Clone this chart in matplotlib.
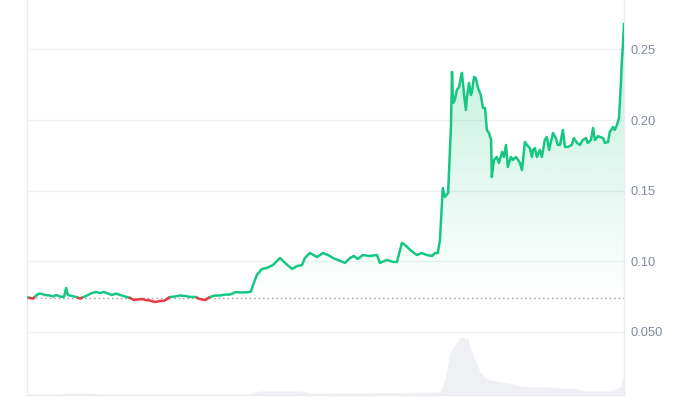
import numpy as np
import matplotlib.pyplot as plt
from matplotlib.colors import to_rgb
from matplotlib.path import Path

# price over a 7 day window (hours since start)
hours = [0.0, 1.7, 3.1, 3.7, 5.1, 6.5, 7.3, 8.2, 9.3, 10.4, 11.0, 11.5, 12.7, 13.8,
         14.9, 16.0, 17.2, 18.3, 19.4, 20.5, 21.7, 22.8, 23.9, 25.0, 26.2, 27.6,
         29.0, 30.1, 31.2, 32.4, 33.5, 34.6, 36.0, 37.4, 38.8, 40.2, 41.6, 43.0,
         44.5, 45.9, 47.3, 48.7, 50.1, 51.5, 52.9, 54.3, 55.7, 57.1, 58.8, 59.9,
         61.3, 63.0, 63.6, 64.7, 66.1, 67.5, 69.2, 71.2, 72.6, 74.6, 76.0, 77.4,
         78.2, 79.6, 81.6, 83.3, 84.7, 86.1, 87.5, 89.5, 90.9, 92.0, 93.1, 94.5,
         96.5, 98.5, 99.3, 101.3, 103.0, 104.1, 105.5, 106.4, 107.8, 109.7, 111.1,
         112.5, 114.0, 114.8, 115.6, 116.2, 117.0, 117.6, 118.5, 119.3, 119.6,
         119.9, 120.4, 121.0, 121.6, 122.1, 122.4, 123.0, 123.5, 123.8, 124.4,
         124.9, 125.2, 125.8, 126.3, 126.9, 127.7, 128.3, 128.9, 129.4, 130.0,
         130.6, 130.8, 131.4, 132.2, 132.8, 133.7, 134.2, 134.8, 135.3, 136.2,
         136.7, 137.6, 138.2, 138.7, 139.3, 140.1, 140.7, 141.5, 142.1, 142.4,
         142.9, 143.5, 144.3, 144.9, 145.7, 146.3, 146.9, 147.7, 148.0, 148.8,
         149.4, 150.0, 150.8, 151.4, 152.2, 153.3, 153.9, 154.8, 155.6, 156.4,
         157.3, 157.8, 158.7, 159.3, 159.8, 160.7, 161.2, 162.1, 162.6, 163.5,
         164.0, 164.9, 165.4, 166.0, 166.6, 167.1, 167.4, 167.7, 168.0]
prices = [0.0744, 0.0737, 0.0769, 0.0772, 0.0762, 0.0758, 0.0751, 0.0762, 0.0751,
          0.0748, 0.0811, 0.0762, 0.0755, 0.0748, 0.0737, 0.0748, 0.0762, 0.0776,
          0.0783, 0.0776, 0.0783, 0.0772, 0.0762, 0.0772, 0.0762, 0.0751, 0.0741,
          0.0726, 0.0730, 0.0733, 0.0726, 0.0723, 0.0712, 0.0719, 0.0723, 0.0748,
          0.0751, 0.0758, 0.0755, 0.0748, 0.0748, 0.0733, 0.0726, 0.0748, 0.0758,
          0.0758, 0.0765, 0.0765, 0.0783, 0.0780, 0.0780, 0.0785, 0.0833, 0.0904,
          0.0946, 0.0953, 0.0974, 0.1024, 0.0989, 0.0946, 0.0967, 0.0974, 0.1024,
          0.1059, 0.1031, 0.1059, 0.1045, 0.1024, 0.1010, 0.0989, 0.1024, 0.1038,
          0.1017, 0.1045, 0.1038, 0.1045, 0.0989, 0.1010, 0.0996, 0.0996, 0.1130,
          0.1116, 0.1081, 0.1045, 0.1059, 0.1045, 0.1038, 0.1059, 0.1059, 0.1151,
          0.1519, 0.1456, 0.1484, 0.1951, 0.2341, 0.2122, 0.2143, 0.2214, 0.2235,
          0.2306, 0.2334, 0.2178, 0.2072, 0.2164, 0.2263, 0.2178, 0.2199, 0.2306,
          0.2298, 0.2228, 0.2178, 0.2086, 0.2086, 0.1930, 0.1909, 0.1859, 0.1597,
          0.1718, 0.1739, 0.1697, 0.1775, 0.1739, 0.1824, 0.1668, 0.1739, 0.1718,
          0.1739, 0.1718, 0.1697, 0.1647, 0.1845, 0.1824, 0.1802, 0.1739, 0.1789,
          0.1802, 0.1739, 0.1789, 0.1739, 0.1859, 0.1880, 0.1789, 0.1873, 0.1909,
          0.1873, 0.1824, 0.1824, 0.1930, 0.1810, 0.1810, 0.1824, 0.1873, 0.1838,
          0.1824, 0.1859, 0.1873, 0.1838, 0.1859, 0.1944, 0.1859, 0.1887, 0.1880,
          0.1873, 0.1838, 0.1845, 0.1916, 0.1951, 0.1930, 0.1965, 0.2015, 0.2249,
          0.2426, 0.2532, 0.2680]

# traded volume (arbitrary units)
vol_hours = [0.0, 9.3, 11.3, 16.9, 20.5, 62.7, 65.6, 76.8, 79.6, 105.0, 116.2,
             117.6, 119.0, 120.4, 121.8, 122.7, 123.5, 124.1, 124.9, 126.1,
             127.5, 128.9, 130.3, 133.1, 135.9, 138.7, 142.4, 147.2, 150.0,
             153.6, 157.6, 161.2, 164.9, 166.9, 167.7, 168.0]
volumes = [1, 1, 2, 2, 1, 1, 4, 4, 2, 2.5, 3, 15, 42, 50, 57, 58, 55, 57, 45,
           35, 23, 17, 15, 13, 12, 9, 8, 8, 7, 7, 4, 4, 5, 8, 18, 22]

baseline = 0.0741
tick_values = [0.05, 0.10, 0.15, 0.20, 0.25]
tick_labels = ["0.050", "0.10", "0.15", "0.20", "0.25"]

GREEN = "#16c784"
RED = "#ea3943"
GRID = "#eff1f4"
TEXT = "#808a9d"

plt.rcParams["font.family"] = ["Liberation Sans", "DejaVu Sans"]

fig = plt.figure(figsize=(7, 4), dpi=100)
rect = [27 / 700, 5 / 400, 597 / 700, 395 / 400]

# volume pane behind the price line
ax_vol = fig.add_axes(rect)
ax_vol.fill_between(vol_hours, volumes, 0, color="#eef0f4", lw=0)
ax_vol.set_ylim(0, 395)
ax_vol.set_xlim(0, 168)
ax_vol.axis("off")

ax = fig.add_axes(rect, sharex=ax_vol)
ax.patch.set_alpha(0)

# insert crossing points so the colour switches exactly at the baseline
t = np.array(hours)
p = np.array(prices)
tt, pp = [t[0]], [p[0]]
for i in range(1, len(t)):
    d0, d1 = p[i - 1] - baseline, p[i] - baseline
    if d0 * d1 < 0:
        f = d0 / (d0 - d1)
        tt.append(t[i - 1] + f * (t[i] - t[i - 1]))
        pp.append(baseline)
    tt.append(t[i])
    pp.append(p[i])
tt, pp = np.array(tt), np.array(pp)

ymin, ymax = 0.0054, 0.285


def gradient_fill(where, color, top, bottom, a_top, a_bottom):
    poly = ax.fill_between(tt, pp, baseline, where=where, color="none", lw=0)
    paths = poly.get_paths()
    if not paths:
        return
    grad = np.zeros((256, 1, 4))
    grad[..., :3] = to_rgb(color)
    grad[:, 0, 3] = np.linspace(a_top, a_bottom, 256)
    img = ax.imshow(grad, aspect="auto", origin="upper",
                    extent=[0, 168, bottom, top], zorder=1)
    img.set_clip_path(Path.make_compound_path(*paths), transform=ax.transData)


gradient_fill(pp >= baseline, GREEN, ymax, baseline, 0.30, 0.0)
gradient_fill(pp <= baseline, RED, baseline, baseline - 0.004, 0.0, 0.12)

up = np.ma.masked_where(pp < baseline, pp)
down = np.ma.masked_where(pp > baseline, pp)
ax.plot(tt, up, color=GREEN, lw=1.8, zorder=3, solid_joinstyle="round")
ax.plot(tt, down, color=RED, lw=1.8, zorder=3, solid_joinstyle="round")

ax.axhline(baseline, color="#9aa0ad", lw=1, dashes=(1.1, 2.1), zorder=2)

ax.set_xlim(0, 168)
ax.set_ylim(ymin, ymax)
ax.set_yticks(tick_values)
ax.set_yticklabels(tick_labels)
ax.yaxis.tick_right()
ax.tick_params(axis="y", length=0, pad=5, labelsize=9.3, labelcolor=TEXT)
ax.set_xticks([])
ax.grid(axis="y", color=GRID, lw=1)
ax.set_axisbelow(True)

for side in ["left", "right", "bottom"]:
    ax.spines[side].set_color("#eaecef")
    ax.spines[side].set_linewidth(1)
ax.spines["top"].set_visible(False)

fig.savefig("out.png", dpi=100)
